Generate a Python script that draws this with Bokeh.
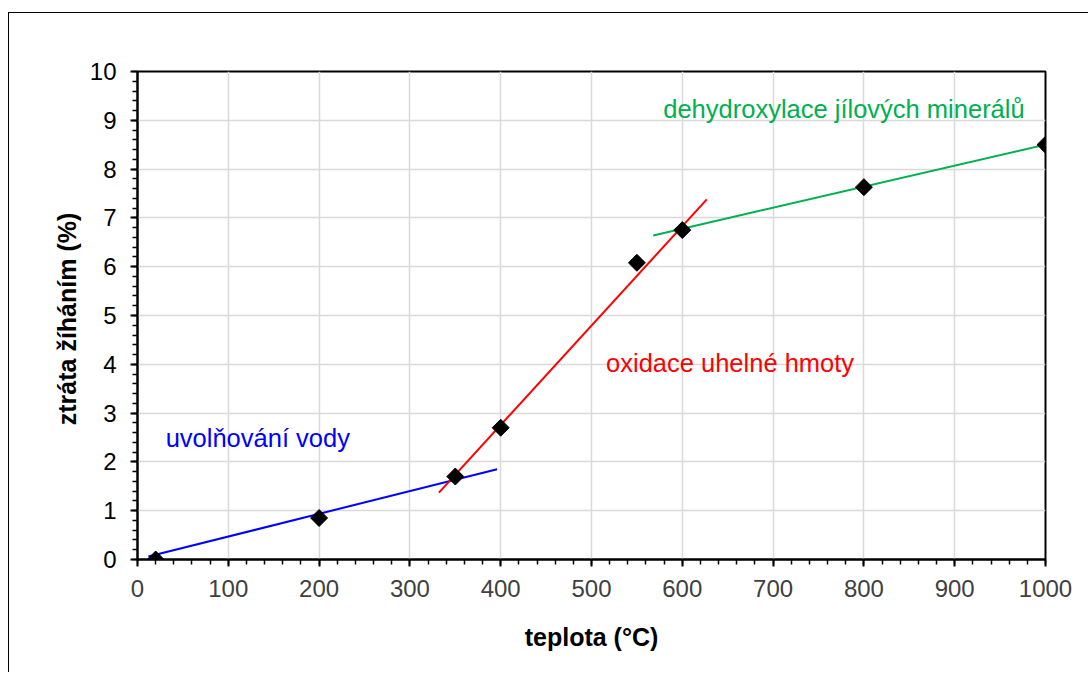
from bokeh.plotting import figure
from bokeh.models import SingleIntervalTicker, ColumnDataSource
from bokeh.core.properties import value
from bokeh.embed import file_html
from bokeh.resources import INLINE
import numpy as np

# data
temp = [20, 200, 350, 400, 550, 600, 800, 1000]
loss = [0.0, 0.85, 1.7, 2.7, 6.08, 6.75, 7.63, 8.5]

blue_x = [12, 396]
blue_y = [0.06, 1.85]
red_x = [332, 627]
red_y = [1.37, 7.38]
green_x = [568, 1009]
green_y = [6.64, 8.54]

labels = ["uvolňování vody", "oxidace uhelné hmoty", "dehydroxylace jílových minerálů"]
label_x = [31, 516, 579]
label_y = [2.49, 4.02, 9.23]
label_colors = ["#0000FF", "#FF0000", "#00B050"]

FONT = "Liberation Sans"

p = figure(width=1080, height=660, x_range=(0, 1000), y_range=(0, 10),
           output_backend="svg", toolbar_location=None,
           min_border_left=128, min_border_right=44,
           min_border_top=58, min_border_bottom=114)
p.styles = {"border-top": "1.5px solid black", "border-left": "1.5px solid black",
            "margin-top": "12px", "margin-left": "8px"}

p.outline_line_color = "black"
p.outline_line_width = 2
p.outline_line_alpha = 1.0

p.xaxis.ticker = SingleIntervalTicker(interval=100, num_minor_ticks=5)
p.yaxis.ticker = SingleIntervalTicker(interval=1, num_minor_ticks=5)

for ax in (p.xaxis[0], p.yaxis[0]):
    ax.axis_line_color = "black"
    ax.axis_line_width = 2
    ax.major_tick_line_color = "black"
    ax.major_tick_line_width = 2
    ax.minor_tick_line_color = "black"
    ax.minor_tick_line_width = 1.5
    ax.major_tick_in = 0
    ax.major_tick_out = 7
    ax.minor_tick_in = 0
    ax.minor_tick_out = 5
    ax.major_label_text_font = FONT
    ax.major_label_text_font_size = "24px"
    ax.axis_label_text_font = FONT
    ax.axis_label_text_font_size = "25px"
    ax.axis_label_text_font_style = "bold"
    ax.axis_label_text_color = "black"

p.xaxis.major_label_text_color = "#404040"
p.yaxis.major_label_text_color = "black"
p.xaxis.major_label_standoff = 13
p.yaxis.major_label_standoff = 14
p.xaxis.axis_label_standoff = 23
p.yaxis.axis_label_standoff = 6
p.xaxis.axis_label = "teplota (°C)"
p.yaxis.axis_label = "ztráta žíháním  (%)"

p.xgrid.grid_line_color = "#D9D9D9"
p.ygrid.grid_line_color = "#D9D9D9"
p.xgrid.grid_line_width = 1.5
p.ygrid.grid_line_width = 1.5

p.line(blue_x, blue_y, line_color="#0000FF", line_width=2)
p.line(red_x, red_y, line_color="#FF0000", line_width=2)
p.line(green_x, green_y, line_color="#00B050", line_width=2)

p.scatter(temp, loss, marker="square", angle=np.pi / 4, size=12,
          fill_color="black", line_color="black")

src = ColumnDataSource(dict(x=label_x, y=label_y, t=labels, c=label_colors))
p.text(x="x", y="y", text="t", text_color="c", source=src,
       text_font=value(FONT), text_font_size="25.5px",
       text_baseline="alphabetic", text_align="left")

open("out.html", "w").write(file_html(p, INLINE))
